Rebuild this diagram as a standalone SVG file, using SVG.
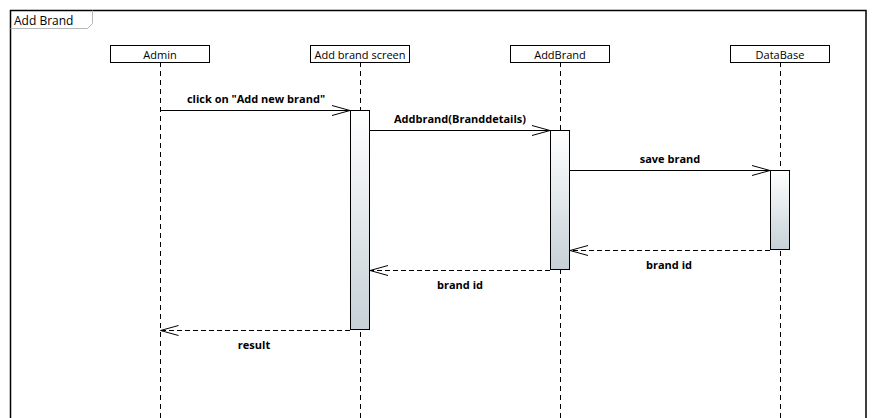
<svg xmlns="http://www.w3.org/2000/svg" width="877" height="418" viewBox="0 0 877 418">
  <defs>
    <linearGradient id="actFill" x1="0" y1="0" x2="0" y2="1">
      <stop offset="0" stop-color="#ffffff"/>
      <stop offset="1" stop-color="#c6d1d7"/>
    </linearGradient>
    <marker id="open" viewBox="0 0 20 12" refX="19" refY="6" markerWidth="20" markerHeight="12" markerUnits="userSpaceOnUse" orient="auto">
      <path d="M1,1 L19,6 L1,11" fill="none" stroke="#000" stroke-width="1"/>
    </marker>
  </defs>
  <style>
    text { font-family: "Open Sans", "DejaVu Sans", sans-serif; font-size: 11px; fill: #000; }
    .title { font-size: 12px; }
    .msgtxt { font-weight: bold; text-anchor: middle; }
    .name { text-anchor: middle; }
    .head { fill: #fff; stroke: #000; stroke-width: 1; }
    .life { stroke: #000; stroke-width: 1; stroke-dasharray: 5 4; fill: none; }
    .act { fill: url(#actFill); stroke: #000; stroke-width: 1; }
    .call { stroke: #000; stroke-width: 1; fill: none; marker-end: url(#open); }
    .reply { stroke: #000; stroke-width: 1; stroke-dasharray: 5 3; fill: none; marker-end: url(#open); }
  </style>

  <rect width="877" height="418" fill="#fff"/>

  <!-- frame -->
  <g id="frame">
    <path d="M10.5,418 L10.5,10.5 L866,10.5 L866,418" fill="none" stroke="#000" stroke-width="1.5"/>
    <path d="M10.5,28.5 L87.5,28.5 L92.5,23.5 L92.5,10.5" fill="none" stroke="#b8b8b8" stroke-width="1"/>
    <text class="title" x="14" y="25">Add Brand</text>
  </g>

  <!-- lifelines -->
  <g id="admin">
    <line class="life" x1="160.5" y1="62" x2="160.5" y2="418"/>
    <rect class="head" x="110.5" y="45.5" width="99" height="17"/>
    <text class="name" x="160" y="59">Admin</text>
  </g>
  <g id="addBrandScreen">
    <line class="life" x1="360.5" y1="62" x2="360.5" y2="418"/>
    <rect class="head" x="310.5" y="45.5" width="99" height="17"/>
    <text class="name" x="360" y="59">Add brand screen</text>
    <rect class="act" x="350.5" y="110.5" width="19" height="219"/>
  </g>
  <g id="addBrand">
    <line class="life" x1="560.5" y1="62" x2="560.5" y2="418"/>
    <rect class="head" x="510.5" y="45.5" width="99" height="17"/>
    <text class="name" x="560" y="59">AddBrand</text>
    <rect class="act" x="550.5" y="130.5" width="19" height="139"/>
  </g>
  <g id="dataBase">
    <line class="life" x1="780.5" y1="62" x2="780.5" y2="418"/>
    <rect class="head" x="730.5" y="45.5" width="99" height="17"/>
    <text class="name" x="780" y="59">DataBase</text>
    <rect class="act" x="770.5" y="170.5" width="19" height="79"/>
  </g>

  <!-- messages -->
  <g id="connectors">
    <line class="call" x1="160.5" y1="110.5" x2="350" y2="110.5"/>
    <text class="msgtxt" x="256" y="103">click on "Add new brand"</text>

    <line class="call" x1="370" y1="130.5" x2="550" y2="130.5"/>
    <text class="msgtxt" x="460" y="123">Addbrand(Branddetails)</text>

    <line class="call" x1="570" y1="170.5" x2="770" y2="170.5"/>
    <text class="msgtxt" x="670" y="163">save brand</text>

    <line class="reply" x1="770" y1="250.5" x2="570" y2="250.5"/>
    <text class="msgtxt" x="669" y="269">brand id</text>

    <line class="reply" x1="550" y1="270.5" x2="370" y2="270.5"/>
    <text class="msgtxt" x="460" y="289">brand id</text>

    <line class="reply" x1="350" y1="330.5" x2="160.5" y2="330.5"/>
    <text class="msgtxt" x="254" y="349">result</text>
  </g>
</svg>
